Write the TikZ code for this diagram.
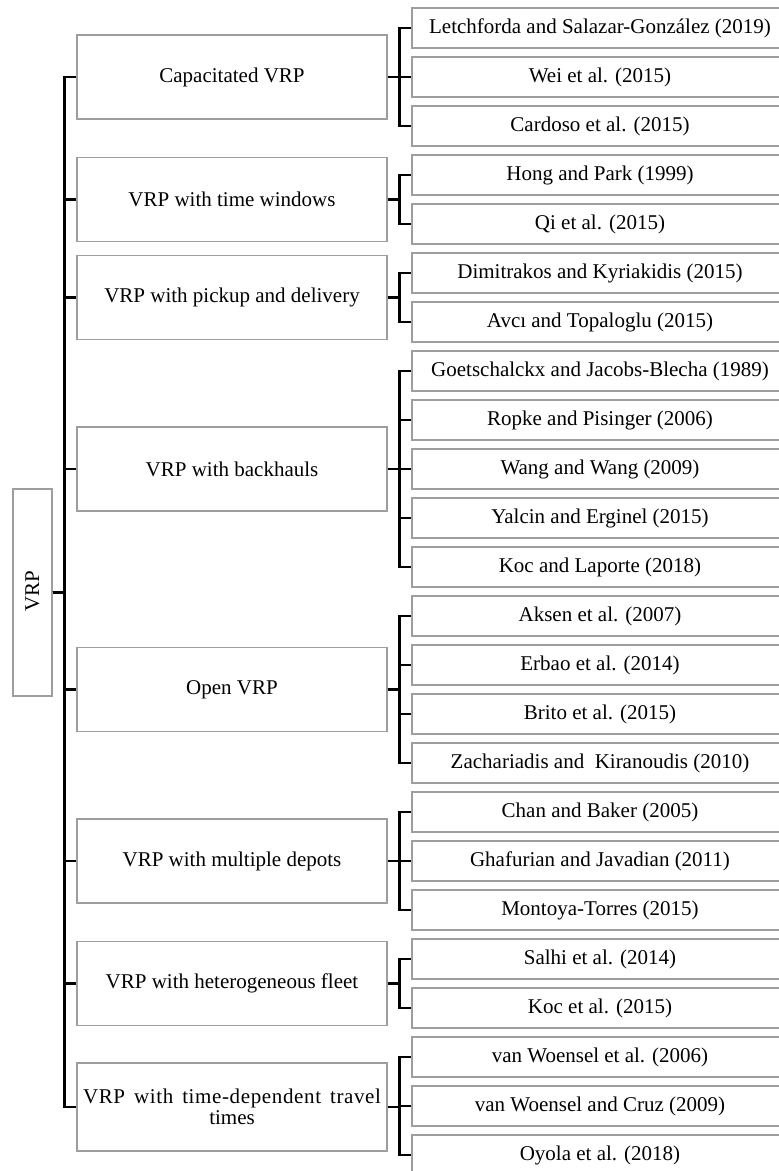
\documentclass[tikz,border=0pt]{standalone}
\usepackage{fontspec}
\setmainfont{Liberation Serif}
\begin{document}
\begin{tikzpicture}[x=1pt,y=-1pt,
  box/.style={draw=black!38, line width=1.1pt, fill=white, inner sep=0pt, align=center,
    font=\fontsize{21}{22}\selectfont},
  catbox/.style={box, minimum width=310pt, minimum height=84pt, anchor=center},
  leafbox/.style={box, minimum width=376pt, minimum height=40pt, anchor=center},
  conn/.style={draw=black, line width=2.5pt}]
\useasboundingbox (0,0) rectangle (779,1171);

% root
\node[box, minimum width=39pt, minimum height=207pt] (vrp) at (32.5,592.5) {};
\node[font=\fontsize{21}{22}\selectfont, rotate=90] (vrptext) at (32.5,591) {VRP};

% categories
\node[catbox] (c1) at (232,77) {Capacitated VRP};
\node[catbox] (c2) at (232,199.5) {VRP with time windows};
\node[catbox] (c3) at (232,297.5) {VRP with pickup and delivery};
\node[catbox] (c4) at (232,469) {VRP with backhauls};
\node[catbox] (c5) at (232,689.5) {Open VRP};
\node[catbox] (c6) at (232,861) {VRP with multiple depots};
\node[catbox] (c7) at (232,983.5) {VRP with heterogeneous fleet};
\node[catbox, minimum height=88pt] (c8) at (232,1107)
  {\addfontfeatures{LetterSpace=3}\makebox[298pt][s]{VRP with time-dependent travel}\\[-1pt]times};

% leaves
\node[leafbox] (l0) at (600,28) {Letchforda and Salazar-González (2019)};
\node[leafbox] (l1) at (600,77) {Wei et al. (2015)};
\node[leafbox] (l2) at (600,126) {Cardoso et al. (2015)};
\node[leafbox] (l3) at (600,175) {Hong and Park (1999)};
\node[leafbox] (l4) at (600,224) {Qi et al. (2015)};
\node[leafbox] (l5) at (600,273) {Dimitrakos and Kyriakidis (2015)};
\node[leafbox] (l6) at (600,322) {Avcı and Topaloglu (2015)};
\node[leafbox] (l7) at (600,371) {Goetschalckx and Jacobs-Blecha (1989)};
\node[leafbox] (l8) at (600,420) {Ropke and Pisinger (2006)};
\node[leafbox] (l9) at (600,469) {Wang and Wang (2009)};
\node[leafbox] (l10) at (600,518) {Yalcin and Erginel (2015)};
\node[leafbox] (l11) at (600,567) {Koc and Laporte (2018)};
\node[leafbox] (l12) at (600,616) {Aksen et al. (2007)};
\node[leafbox] (l13) at (600,665) {Erbao et al. (2014)};
\node[leafbox] (l14) at (600,714) {Brito et al. (2015)};
\node[leafbox] (l15) at (600,763) {Zachariadis and~~Kiranoudis (2010)};
\node[leafbox] (l16) at (600,812) {Chan and Baker (2005)};
\node[leafbox] (l17) at (600,861) {Ghafurian and Javadian (2011)};
\node[leafbox] (l18) at (600,910) {Montoya-Torres (2015)};
\node[leafbox] (l19) at (600,959) {Salhi et al. (2014)};
\node[leafbox] (l20) at (600,1008) {Koc et al. (2015)};
\node[leafbox] (l21) at (600,1057) {van Woensel et al. (2006)};
\node[leafbox] (l22) at (600,1106) {van Woensel and Cruz (2009)};
\node[leafbox] (l23) at (600,1155) {Oyola et al. (2018)};

% trunk
\foreach \c in {c1,c2,c3,c4,c5,c6,c7,c8}
  \draw[conn] (vrp.east) -- ++(12,0) |- (\c.west);

% brackets
\foreach \c/\ls in {c1/{l0,l1,l2}, c2/{l3,l4}, c3/{l5,l6}, c4/{l7,l8,l9,l10,l11},
    c5/{l12,l13,l14,l15}, c6/{l16,l17,l18}, c7/{l19,l20}, c8/{l21,l22,l23}}
  \foreach \l in \ls
    \draw[conn] (\c.east) -- ++(12,0) |- (\l.west);
\end{tikzpicture}
\end{document}
